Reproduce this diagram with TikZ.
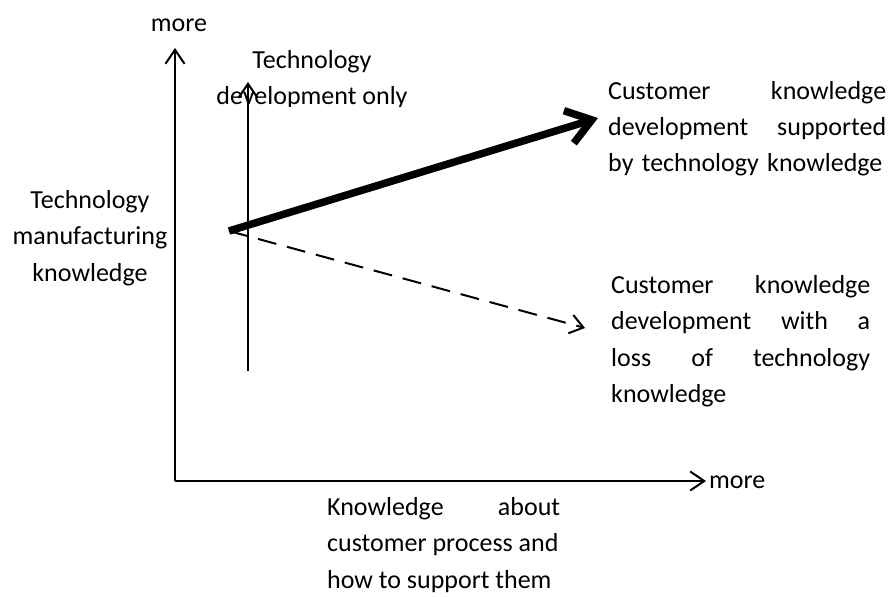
\documentclass[tikz,border=0pt]{standalone}
\usepackage{fontspec}
\setmainfont{Carlito}
\usetikzlibrary{arrows.meta}
\begin{document}
\begin{tikzpicture}[x=1pt,y=-1pt,
  lbl/.style={inner sep=0pt, anchor=base west, font=\fontsize{26}{36.5}\selectfont},
  axisarrow/.style={line width=2pt, -{Straight Barb[length=14pt,width=19pt]}},
  thickarrow/.style={line width=7.5pt, -{Straight Barb[length=24pt,width=34pt]}},
  dasharrow/.style={line width=2pt, dash pattern=on 19pt off 11pt, -{Straight Barb[length=13pt,width=19pt]}}]
\useasboundingbox (0,0) rectangle (895,597);

% coordinates
\coordinate (O) at (175,481);
\coordinate (ytip) at (175,48);
\coordinate (xtip) at (706,481);
\coordinate (vbot) at (248,371);
\coordinate (vtop) at (248,82);
\coordinate (start) at (229,231);
\coordinate (tthick) at (598,118);
\coordinate (tdash) at (585,328);

% axes
\draw[axisarrow] (O) -- (ytip);
\draw[axisarrow] (O) -- (xtip);

% technology only arrow
\draw[axisarrow] (vbot) -- (vtop);

% arrows
\draw[thickarrow] (start) -- (tthick);
\draw[dasharrow] (start) -- (tdash);

% labels
\node[lbl, anchor=base] (moretop) at (179,31) {more};
\node[lbl] (moreright) at (709,488) {more};

\node[lbl, anchor=base] (tmk) at (90,208)
  {\parbox[t]{200pt}{\centering Technology\\manufacturing\\knowledge}};

\begin{scope}
\clip (0,0) rectangle (895,106);
\node[lbl, anchor=base] (tdo) at (312,68)
  {\parbox[t]{230pt}{\centering Technology\\development only}};
\end{scope}

\begin{scope}
\clip (0,0) rectangle (895,175);
\node[lbl] (ckt) at (608,99)
  {\parbox[t]{278pt}{Customer\hfill knowledge\\development\hfill supported\\by\hspace{0.32em}technology\hspace{0.32em}knowledge}};
\end{scope}

\node[lbl] (ckl) at (611,293)
  {\parbox[t]{259pt}{Customer\hfill knowledge\\development\hfill with\hfill a\\loss\hfill of\hfill technology\\knowledge}};

\node[lbl] (kac) at (327,515)
  {\parbox[t]{233pt}{Knowledge\hfill about\\customer process and\\how to support them}};
\end{tikzpicture}
\end{document}
